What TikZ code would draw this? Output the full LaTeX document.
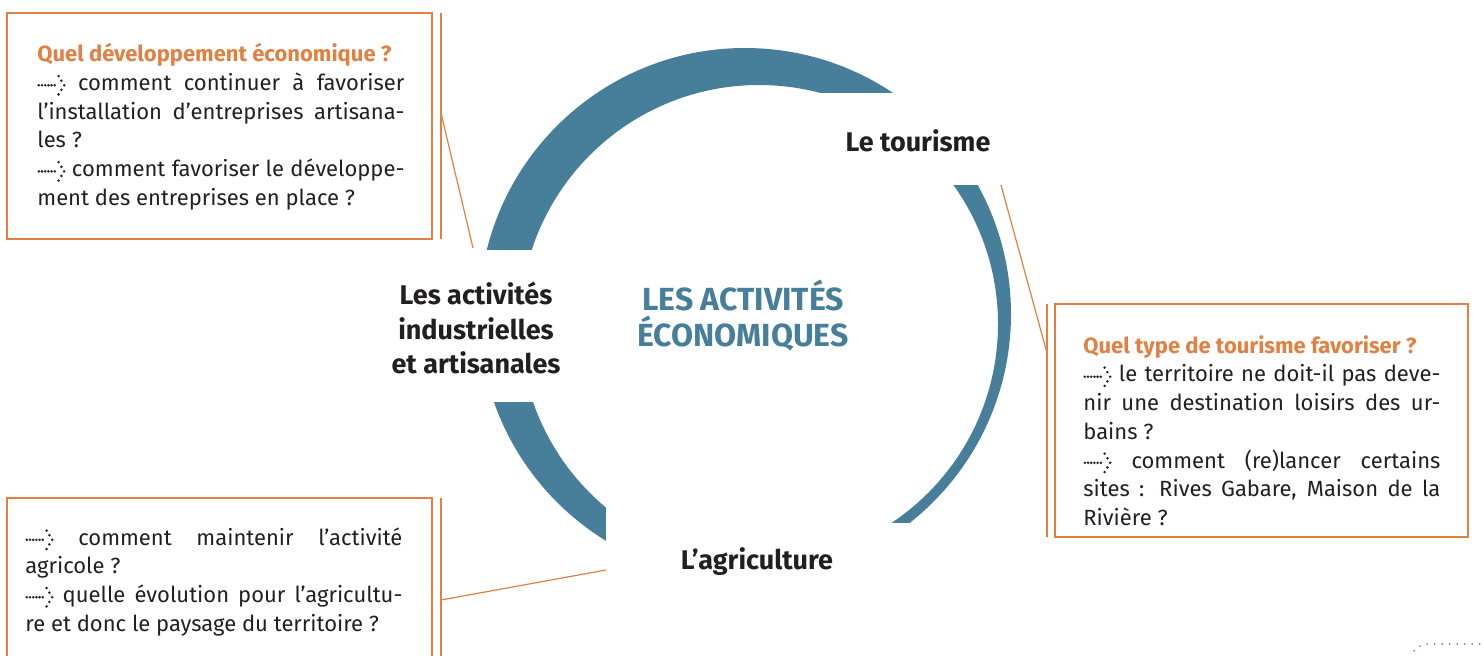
\documentclass[tikz,border=0pt]{standalone}
\usepackage{fontspec}
\setmainfont{Fira Sans}
\usepackage{xcolor}
\usetikzlibrary{calc, positioning}

\definecolor{bleuanneau}{RGB}{71,127,154}
\definecolor{orangeqs}{RGB}{224,128,66}
\definecolor{encre}{RGB}{35,31,32}

\newcommand{\corps}{\fontsize{11}{14.35}\selectfont\parindent=0pt\hyphenpenalty=10000\exhyphenpenalty=10000}
\newcommand{\qtitre}[1]{{\bfseries\color{orangeqs}#1}\par}
\newcommand{\fleche}{\leavevmode\tikz[x=1pt, y=1pt, baseline=-2.6pt]{%
    \foreach \i in {0,1.6,...,8.1} \fill[encre] (\i,0) circle (0.7);
    \foreach \p in {(9.9,4.6),(11.3,2.3),(12.7,0),(11.3,-2.3),(9.9,-4.6)} \fill[encre] \p circle (0.7);}}

\begin{document}
\begin{tikzpicture}[x=0.5pt, y=-0.5pt]
    \tikzset{
      cadre/.style={draw=orangeqs, line width=0.6pt},
      lien/.style={draw=orangeqs, line width=0.6pt},
      masque/.style={fill=white},
      question/.style={anchor=north west, inner sep=0pt, align=justify, text=encre, font=\corps},
      theme/.style={align=center, inner sep=0pt, text=encre,
        font=\fontsize{13.5}{17.25}\selectfont\bfseries},
    }
    \clip (0,0) rectangle (1484,655);

    % anneau et ses coupures
    \fill[bleuanneau, even odd rule] (745,314) circle (266) (759,324) circle (239);
    \fill[masque] (820,93) rectangle (1030,185);
    \fill[masque] (370,250) rectangle (585,402);
    \fill[masque] (606,505) rectangle (700,660);
    \fill[masque] (606,523) rectangle (1030,660);

    \node[font=\fontsize{16}{18}\selectfont\bfseries, text=bleuanneau, align=center] (titre) at (743,316) {LES ACTIVITÉS\\ÉCONOMIQUES};
    \node[theme] (tourisme) at (918,141) {Le tourisme};
    \node[theme] (industrie) at (476,328) {Les activités\\industrielles\\et artisanales};
    \node[theme] (agriculture) at (757,562) {L’agriculture};

    % cadres
    \draw[cadre] (7,13) rectangle (432,239);
    \node[question, text width=183.5pt] (qDev) at (37,43) {\qtitre{Quel développement économique~?}
      \fleche{} comment continuer à favoriser\linebreak l’installation d’entreprises artisana-\linebreak les~?\par
      \fleche{} comment favoriser le développe-\linebreak ment des entreprises en place~?};

    \draw[cadre] (1055,304) rectangle (1468,537);
    \node[question, text width=178.5pt] (qTour) at (1083,335) {\qtitre{Quel type de tourisme favoriser~?}
      \fleche{} le territoire ne doit-il pas deve-\linebreak nir une destination loisirs des ur-\linebreak bains~?\par
      \fleche{} comment (re)lancer certains\linebreak sites : Rives Gabare, Maison de la\linebreak Rivière~?};

    \draw[cadre] (7,670) |- (432,498) -- (432,670);
    \node[question, text width=188.5pt] (qAgri) at (25,527) {%
      \fleche{} comment maintenir l’activité\linebreak agricole~?\par
      \fleche{} quelle évolution pour l’agricultu-\linebreak re et donc le paysage du territoire~?};

    % liens
    \coordinate (devHaut) at (441,13);
    \coordinate (devBas) at (441,239);
    \coordinate (devPied) at (441,113);
    \coordinate (devBout) at (473,248);
    \draw[lien] (devHaut) -- (devBas);
    \draw[lien] (devPied) -- (devBout);

    \coordinate (tourHaut) at (1047,304);
    \coordinate (tourBas) at (1047,537);
    \coordinate (tourPied) at (1047,353);
    \coordinate (tourBout) at (1001,185);
    \draw[lien] (tourHaut) -- (tourBas);
    \draw[lien] (tourPied) -- (tourBout);

    \coordinate (agriHaut) at (441,498);
    \coordinate (agriBas) at (441,670);
    \coordinate (agriPied) at (441,600);
    \coordinate (agriBout) at (606,570);
    \draw[lien] (agriHaut) -- (agriBas);
    \draw[lien] (agriPied) -- (agriBout);

    % pointilles du coin
    \draw[bleuanneau, line width=0.9pt, line cap=round, dash pattern=on 0pt off 3.75pt]
      (1410,657) .. controls (1416,646) and (1422,644) .. (1430,644) -- (1490,644);
\end{tikzpicture}
\end{document}
